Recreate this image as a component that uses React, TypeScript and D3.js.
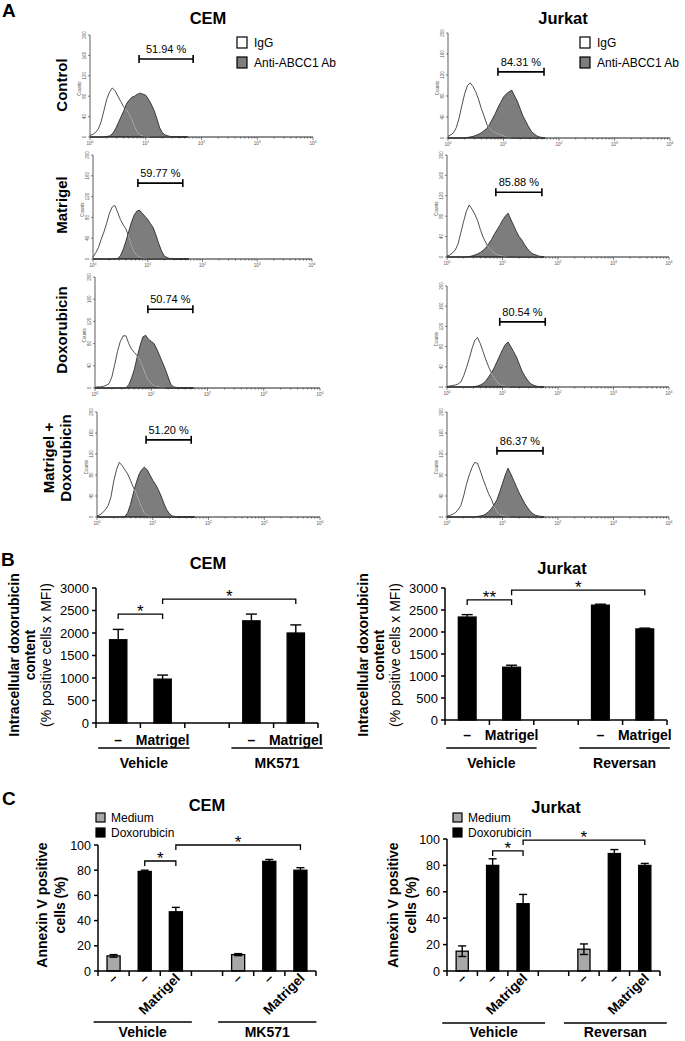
import React from "react";
import * as d3 from "d3";

const W = 685;
const H = 1041;
const FONT = "'Liberation Sans', Arial, Helvetica, sans-serif";

// ---------- Panel A data (flow histograms, counts at log10 fluorescence positions) ----------
const LOGX = [0, 0.05, 0.1, 0.15, 0.2, 0.25, 0.3, 0.35, 0.4, 0.45, 0.5, 0.55, 0.6, 0.65, 0.7, 0.75, 0.8, 0.85, 0.9, 0.95, 1, 1.05, 1.1, 1.15, 1.2, 1.25, 1.3, 1.35, 1.4, 1.45, 1.5, 1.55, 1.6, 1.65, 1.7, 1.75];

const CEM_CONTROL_IGG = [3, 5, 9, 16, 30, 52, 74, 88, 96, 91, 80, 70, 60, 53, 46, 34, 20, 9, 4, 2, 1, 1, 0, 0, 0, 0, 0, 0, 0, 0, 0, 0, 0, 0, 0, 0];
const CEM_CONTROL_ABCC1 = [0, 0, 0, 0, 0, 0, 1, 2, 6, 14, 26, 38, 50, 64, 72, 78, 80, 84, 86, 84, 82, 74, 64, 52, 36, 18, 8, 4, 2, 1, 1, 1, 0, 0, 0, 0];
const CEM_MATRIGEL_IGG = [4, 12, 22, 38, 52, 69, 88, 100, 103, 90, 76, 66, 58, 44, 26, 14, 7, 4, 2, 1, 0, 0, 0, 0, 0, 0, 0, 0, 0, 0, 0, 0, 0, 0, 0, 0];
const CEM_MATRIGEL_ABCC1 = [0, 0, 0, 0, 0, 0, 0, 0, 0, 1, 6, 18, 34, 52, 70, 84, 92, 94, 88, 82, 76, 68, 60, 46, 30, 16, 6, 3, 1, 1, 0, 0, 0, 0, 0, 0];
const CEM_DOXO_IGG = [1, 2, 2, 3, 5, 8, 20, 42, 66, 84, 94, 94, 80, 70, 64, 58, 50, 38, 24, 14, 8, 5, 3, 2, 1, 0, 0, 0, 0, 0, 0, 0, 0, 0, 0, 0];
const CEM_DOXO_ABCC1 = [0, 0, 0, 0, 0, 0, 0, 0, 0, 0, 0, 0, 6, 18, 34, 56, 76, 92, 95, 88, 84, 80, 70, 58, 46, 34, 20, 6, 2, 1, 0, 0, 0, 0, 0, 0];
const CEM_MD_IGG = [2, 4, 8, 14, 22, 38, 68, 90, 104, 98, 90, 82, 70, 57, 46, 32, 18, 7, 3, 1, 0, 0, 0, 0, 0, 0, 0, 0, 0, 0, 0, 0, 0, 0, 0, 0];
const CEM_MD_ABCC1 = [0, 0, 0, 0, 0, 0, 0, 0, 0, 0, 1, 8, 24, 45, 64, 80, 90, 95, 90, 80, 70, 62, 52, 40, 26, 14, 6, 2, 1, 0, 0, 0, 0, 0, 0, 0];

const JUR_CONTROL_IGG = [3, 6, 10, 20, 38, 62, 84, 100, 105, 98, 88, 74, 56, 42, 26, 18, 13, 10, 8, 6, 4, 2, 1, 0, 0, 0, 0, 0, 0, 0, 0, 0, 0, 0, 0, 0];
const JUR_CONTROL_ABCC1 = [0, 0, 0, 0, 0, 0, 0, 1, 2, 3, 5, 7, 10, 14, 18, 26, 36, 46, 58, 68, 78, 84, 88, 91, 80, 70, 56, 42, 32, 22, 13, 8, 4, 2, 1, 0];
const JUR_MATRIGEL_IGG = [2, 4, 8, 14, 26, 48, 70, 90, 102, 94, 84, 72, 54, 39, 28, 18, 12, 8, 5, 3, 2, 1, 0, 0, 0, 0, 0, 0, 0, 0, 0, 0, 0, 0, 0, 0];
const JUR_MATRIGEL_ABCC1 = [0, 0, 0, 0, 0, 0, 0, 0, 1, 2, 4, 6, 9, 13, 18, 26, 34, 44, 53, 62, 72, 80, 86, 74, 62, 50, 40, 33, 24, 16, 10, 6, 4, 2, 1, 0];
const JUR_DOXO_IGG = [1, 2, 3, 4, 6, 10, 22, 38, 56, 76, 92, 98, 86, 70, 54, 40, 28, 18, 10, 5, 3, 2, 1, 0, 0, 0, 0, 0, 0, 0, 0, 0, 0, 0, 0, 0];
const JUR_DOXO_ABCC1 = [0, 0, 0, 0, 0, 0, 0, 0, 0, 0, 1, 2, 4, 7, 12, 20, 28, 38, 50, 62, 74, 84, 89, 80, 70, 60, 46, 32, 22, 14, 7, 4, 2, 1, 0, 0];
const JUR_MD_IGG = [2, 3, 5, 8, 14, 22, 40, 62, 80, 94, 104, 102, 88, 72, 58, 44, 34, 20, 10, 5, 3, 2, 1, 0, 0, 0, 0, 0, 0, 0, 0, 0, 0, 0, 0, 0];
const JUR_MD_ABCC1 = [0, 0, 0, 0, 0, 0, 0, 0, 0, 0, 0, 1, 2, 3, 6, 10, 16, 24, 33, 48, 64, 80, 93, 82, 70, 58, 46, 36, 26, 18, 11, 6, 3, 2, 1, 0];

const ROW_LABELS = [["Control"], ["Matrigel"], ["Doxorubicin"], ["Matrigel +", "Doxorubicin"]];
const CEM_PCT = ["51.94 %", "59.77 %", "50.74 %", "51.20 %"];
const JUR_PCT = ["84.31 %", "85.88 %", "80.54 %", "86.37 %"];
const CEM_GATE = [[0.88, 1.85], [0.82, 1.64], [0.94, 1.74], [0.88, 1.69]];
const JUR_GATE = [[0.9, 1.73], [0.88, 1.71], [0.95, 1.77], [0.9, 1.73]];
const CEM_GATE_LEVEL = [153, 146, 142, 147];
const JUR_GATE_LEVEL = [126, 127, 129, 126];
const HIST_Y_TICKS = [0, 40, 80, 120, 160, 200];
const HIST_LEGEND = ["IgG", "Anti-ABCC1 Ab"];

// ---------- Panel B data ----------
const B_CATS = ["–", "Matrigel", "", "–", "Matrigel"];
const B_CEM_VALUES = [1850, 975, null, 2270, 2000];
const B_CEM_ERRORS = [230, 90, null, 150, 180];
const B_JUR_VALUES = [2340, 1200, null, 2610, 2070];
const B_JUR_ERRORS = [55, 45, null, 22, 18];
const B_Y_TICKS = [0, 500, 1000, 1500, 2000, 2500, 3000];
const B_CEM_GROUPS = [["Vehicle", 0, 1], ["MK571", 3, 4]];
const B_JUR_GROUPS = [["Vehicle", 0, 1], ["Reversan", 3, 4]];
const B_CEM_SIG = [[0, 1, 2420, "*"], [1, 4, 2755, "*"]];
const B_JUR_SIG = [[0, 1, 2730, "**"], [1, 4, 2950, "*"]];

// ---------- Panel C data ----------
const C_CATS = ["–", "–", "Matrigel", "", "–", "–", "Matrigel"];
const C_FILL = ["medium", "doxo", "doxo", "", "medium", "doxo", "doxo"];
const C_CEM_VALUES = [12, 79, 47, null, 13, 87, 80];
const C_CEM_ERRORS = [1, 1, 3.5, null, 0.8, 1.5, 2];
const C_JUR_VALUES = [15, 80, 51, null, 16.5, 89, 80];
const C_JUR_ERRORS = [4, 5, 7, null, 4, 3, 1.5];
const C_Y_TICKS = [0, 20, 40, 60, 80, 100];
const C_CEM_GROUPS = [["Vehicle", 0, 2], ["MK571", 4, 6]];
const C_JUR_GROUPS = [["Vehicle", 0, 2], ["Reversan", 4, 6]];
const C_CEM_SIG = [[1, 2, 87.3, "*"], [2, 6, 100, "*"]];
const C_JUR_SIG = [[1, 2, 91, "*"], [2, 6, 99.2, "*"]];
const C_LEGEND = ["Medium", "Doxorubicin"];

// ---------- Layout (positions only) ----------
const CEM_HIST_BOX = [
  { x0: 90, x1: 313, top: 35, base: 137 },
  { x0: 93, x1: 312, top: 155, base: 259 },
  { x0: 95, x1: 320, top: 277, base: 388 },
  { x0: 97, x1: 320, top: 412, base: 517 },
];
const JUR_HIST_BOX = [
  { x0: 448, x1: 670, top: 33, base: 138 },
  { x0: 447, x1: 669, top: 155, base: 257 },
  { x0: 447, x1: 669, top: 286, base: 387 },
  { x0: 447, x1: 669, top: 412, base: 517 },
];
const ROW_CENTER_Y = [85, 205, 330, 458];

const GREY_HIST = "#7d7d7d";
const GREY_BAR = "#a8a8a8";

function Histogram({ id, box, igg, anti, gate, pct, level }) {
  const { x0, x1, top, base } = box;
  const x = d3.scaleLog().domain([1, 10000]).range([x0, x1]);
  const y = d3.scaleLinear().domain([0, 200]).range([base, top]);
  const pts = (arr) => LOGX.map((l, i) => [Math.pow(10, l), arr[i]]);
  const area = d3.area().x((d) => x(d[0])).y0(base).y1((d) => y(d[1]));
  const line = d3.line().x((d) => x(d[0])).y((d) => y(d[1]));
  const iggP = pts(igg);
  const antiP = pts(anti);
  const ticks = x.ticks();
  const isDecade = (t) => Math.abs(Math.log10(t) - Math.round(Math.log10(t))) < 1e-9;
  const gy = y(level);
  const gx0 = x(Math.pow(10, gate[0]));
  const gx1 = x(Math.pow(10, gate[1]));
  return (
    <g>
      <defs>
        <clipPath id={id}>
          <path d={area(antiP)} />
        </clipPath>
      </defs>
      <path d={area(iggP)} fill="#fff" />
      <path d={area(antiP)} fill={GREY_HIST} stroke="#1a1a1a" strokeWidth={0.8} />
      <path d={line(iggP)} fill="none" stroke="#222" strokeWidth={0.8} />
      <path d={line(iggP)} fill="none" stroke="#d8d8d8" strokeWidth={0.8} clipPath={`url(#${id})`} />
      <line x1={x0} x2={x0} y1={base} y2={top} stroke="#333" strokeWidth={0.8} />
      <line x1={x0} x2={x1} y1={base} y2={base} stroke="#222" strokeWidth={1} />
      {HIST_Y_TICKS.map((t) => (
        <g key={t}>
          <line x1={x0 - 2} x2={x0} y1={y(t)} y2={y(t)} stroke="#333" strokeWidth={0.6} />
          <text transform={`translate(${x0 - 4},${y(t)}) rotate(-90)`} textAnchor="middle" fontSize={4.5} fill="#555">
            {t}
          </text>
        </g>
      ))}
      <text transform={`translate(${x0 - 9},${y(95)}) rotate(-90)`} textAnchor="middle" fontSize={4.5} fill="#555">
        Counts
      </text>
      {ticks.map((t, i) => (
        <line key={i} x1={x(t)} x2={x(t)} y1={base} y2={base + (isDecade(t) ? 3 : 1.6)} stroke="#333" strokeWidth={0.6} />
      ))}
      {ticks.filter(isDecade).map((t) => (
        <text key={t} x={x(t)} y={base + 8} textAnchor="middle" fontSize={4.5} fill="#555">
          10
          <tspan dy={-2} fontSize={3.5}>
            {Math.round(Math.log10(t))}
          </tspan>
        </text>
      ))}
      <line x1={gx0} x2={gx1} y1={gy} y2={gy} stroke="#000" strokeWidth={1.6} />
      <line x1={gx0} x2={gx0} y1={gy - 4} y2={gy + 4} stroke="#000" strokeWidth={1.6} />
      <line x1={gx1} x2={gx1} y1={gy - 4} y2={gy + 4} stroke="#000" strokeWidth={1.6} />
      <text x={(gx0 + gx1) / 2} y={gy - 6} textAnchor="middle" fontSize={11} fill="#000">
        {pct}
      </text>
    </g>
  );
}

function HistLegend({ x, y }) {
  return (
    <g>
      {HIST_LEGEND.map((s, i) => (
        <g key={s}>
          <rect x={x} y={y + i * 20} width={10} height={11} fill={i === 0 ? "#fff" : GREY_HIST} stroke="#000" strokeWidth={1.2} />
          <text x={x + 17} y={y + i * 20 + 10} fontSize={12} fill="#000">
            {s}
          </text>
        </g>
      ))}
    </g>
  );
}

function BarPanel({
  x0, x1, yBase, yTop, yMax, yTicks, values, errors, fills, cats, groups, sig,
  pad, capW, tickFont, rotated, catY, groupY, groupOff, groupDy,
}) {
  const n = values.length;
  const xb = d3.scaleBand().domain(d3.range(n)).range([x0, x1]).paddingInner(pad).paddingOuter(pad / 2);
  const step = (x1 - x0) / n;
  const cx = (i) => xb(i) + xb.bandwidth() / 2;
  const y = d3.scaleLinear().domain([0, yMax]).range([yBase, yTop]);
  return (
    <g fontFamily={FONT}>
      {values.map((v, i) =>
        v == null ? null : (
          <rect key={"b" + i} x={xb(i)} y={y(v)} width={xb.bandwidth()} height={yBase - y(v)}
            fill={fills[i] === "medium" ? GREY_BAR : "#000"} stroke="#000" strokeWidth={1.3} />
        )
      )}
      {values.map((v, i) =>
        v == null ? null : (
          <g key={"e" + i} stroke="#000" strokeWidth={1.4}>
            <line x1={cx(i)} x2={cx(i)} y1={y(v - errors[i])} y2={y(v + errors[i])} />
            <line x1={cx(i) - capW / 2} x2={cx(i) + capW / 2} y1={y(v + errors[i])} y2={y(v + errors[i])} />
            <line x1={cx(i) - capW / 2} x2={cx(i) + capW / 2} y1={y(v - errors[i])} y2={y(v - errors[i])} />
          </g>
        )
      )}
      <line x1={x0} x2={x0} y1={yBase} y2={y(yMax)} stroke="#000" strokeWidth={1.5} />
      {yTicks.map((t) => (
        <g key={t}>
          <line x1={x0 - 4} x2={x0} y1={y(t)} y2={y(t)} stroke="#000" strokeWidth={1.5} />
          <text x={x0 - 7} y={y(t)} dy="0.36em" textAnchor="end" fontSize={tickFont} fill="#000">
            {t}
          </text>
        </g>
      ))}
      <line x1={x0} x2={x1} y1={yBase} y2={yBase} stroke="#000" strokeWidth={1.5} />
      {d3.range(n + 1).map((i) => (
        <line key={"t" + i} x1={x0 + i * step} x2={x0 + i * step} y1={yBase} y2={yBase + 5} stroke="#000" strokeWidth={1.5} />
      ))}
      {cats.map((c, i) =>
        c === "" ? null : rotated ? (
          <text key={"c" + i} transform={`translate(${cx(i) + 5},${catY}) rotate(-45)`} textAnchor="end" fontSize={13.5} fontWeight="bold">
            {c}
          </text>
        ) : (
          <text key={"c" + i} x={cx(i)} y={catY} textAnchor="middle" fontSize={14} fontWeight="bold">
            {c}
          </text>
        )
      )}
      {groups.map(([label, a, b]) => {
        const la = cx(a) - groupOff[0];
        const lb = cx(b) + groupOff[1];
        return (
          <g key={label}>
            <line x1={la} x2={lb} y1={groupY} y2={groupY} stroke="#000" strokeWidth={1.5} />
            <text x={(la + lb) / 2} y={groupY + groupDy} textAnchor="middle" fontSize={14} fontWeight="bold">
              {label}
            </text>
          </g>
        );
      })}
      {sig.map(([a, b, lvl, lab], k) => {
        const yy = y(lvl);
        return (
          <g key={"s" + k}>
            <path d={`M${cx(a)},${yy + 5}V${yy}H${cx(b)}V${yy + 5}`} fill="none" stroke="#000" strokeWidth={1.3} />
            <text x={(cx(a) + cx(b)) / 2} y={yy + 3} textAnchor="middle" fontSize={17}>
              {lab}
            </text>
          </g>
        );
      })}
    </g>
  );
}

function CLegend({ x, y }) {
  return (
    <g fontFamily={FONT}>
      {C_LEGEND.map((s, i) => (
        <g key={s}>
          <rect x={x} y={y + i * 15} width={9} height={9} fill={i === 0 ? GREY_BAR : "#000"} stroke="#000" strokeWidth={1.2} />
          <text x={x + 15} y={y + i * 15 + 9} fontSize={12}>
            {s}
          </text>
        </g>
      ))}
    </g>
  );
}

function YLabel({ y, lines }) {
  return (
    <g>
      {lines.map(([s, bx, bold], i) => (
        <text key={i} transform={`translate(${bx},${y}) rotate(-90)`} textAnchor="middle" fontSize={14} fontWeight={bold ? "bold" : "normal"}>
          {s}
        </text>
      ))}
    </g>
  );
}

export default function App() {
  const cemIgg = [CEM_CONTROL_IGG, CEM_MATRIGEL_IGG, CEM_DOXO_IGG, CEM_MD_IGG];
  const cemAnti = [CEM_CONTROL_ABCC1, CEM_MATRIGEL_ABCC1, CEM_DOXO_ABCC1, CEM_MD_ABCC1];
  const jurIgg = [JUR_CONTROL_IGG, JUR_MATRIGEL_IGG, JUR_DOXO_IGG, JUR_MD_IGG];
  const jurAnti = [JUR_CONTROL_ABCC1, JUR_MATRIGEL_ABCC1, JUR_DOXO_ABCC1, JUR_MD_ABCC1];
  return (
    <svg width={W} height={H} viewBox={`0 0 ${W} ${H}`} style={{ position: "absolute", left: 0, top: 0, background: "#fff" }} fontFamily={FONT}>
      <rect x={0} y={0} width={W} height={H} fill="#fff" />
      {/* ---------- Panel A ---------- */}
      <text x={2} y={17} fontSize={19} fontWeight="bold">A</text>
      <text x={208} y={24} textAnchor="middle" fontSize={16.5} fontWeight="bold">CEM</text>
      <text x={563} y={24} textAnchor="middle" fontSize={16.5} fontWeight="bold">Jurkat</text>
      {ROW_LABELS.map((lines, r) =>
        lines.length === 1 ? (
          <text key={r} transform={`translate(67,${ROW_CENTER_Y[r]}) rotate(-90)`} textAnchor="middle" fontSize={15} fontWeight="bold">
            {lines[0]}
          </text>
        ) : (
          <g key={r}>
            {lines.map((s, k) => (
              <text key={k} transform={`translate(${54 + k * 17},${ROW_CENTER_Y[r]}) rotate(-90)`} textAnchor="middle" fontSize={15} fontWeight="bold">
                {s}
              </text>
            ))}
          </g>
        )
      )}
      {CEM_HIST_BOX.map((box, r) => (
        <Histogram key={"c" + r} id={"cemclip" + r} box={box} igg={cemIgg[r]} anti={cemAnti[r]} gate={CEM_GATE[r]} pct={CEM_PCT[r]} level={CEM_GATE_LEVEL[r]} />
      ))}
      {JUR_HIST_BOX.map((box, r) => (
        <Histogram key={"j" + r} id={"jurclip" + r} box={box} igg={jurIgg[r]} anti={jurAnti[r]} gate={JUR_GATE[r]} pct={JUR_PCT[r]} level={JUR_GATE_LEVEL[r]} />
      ))}
      <HistLegend x={237} y={37} />
      <HistLegend x={580} y={37} />

      {/* ---------- Panel B ---------- */}
      <text x={1} y={566} fontSize={19} fontWeight="bold">B</text>
      <text x={208} y={569} textAnchor="middle" fontSize={16.5} fontWeight="bold">CEM</text>
      <text x={562} y={574} textAnchor="middle" fontSize={16.5} fontWeight="bold">Jurkat</text>
      <YLabel y={655} lines={[["Intracellular doxorubicin", 19, true], ["content", 35, true], ["(% positive cells x MFI)", 51, false]]} />
      <YLabel y={655} lines={[["Intracellular doxorubicin", 368, true], ["content", 384, true], ["(% positive cells x MFI)", 400, false]]} />
      <BarPanel x0={96} x1={318} yBase={723} yTop={588} yMax={3000} yTicks={B_Y_TICKS} values={B_CEM_VALUES} errors={B_CEM_ERRORS}
        fills={B_CATS.map(() => "doxo")} cats={B_CATS} groups={B_CEM_GROUPS} sig={B_CEM_SIG} pad={0.61} capW={11} tickFont={13}
        rotated={false} catY={745} groupY={748} groupOff={[20, 27]} groupDy={20} />
      <BarPanel x0={445} x1={667} yBase={720} yTop={588} yMax={3000} yTicks={B_Y_TICKS} values={B_JUR_VALUES} errors={B_JUR_ERRORS}
        fills={B_CATS.map(() => "doxo")} cats={B_CATS} groups={B_JUR_GROUPS} sig={B_JUR_SIG} pad={0.6} capW={11} tickFont={13}
        rotated={false} catY={740} groupY={748} groupOff={[21, 25]} groupDy={20} />

      {/* ---------- Panel C ---------- */}
      <text x={2} y={805} fontSize={19} fontWeight="bold">C</text>
      <text x={207} y={811} textAnchor="middle" fontSize={16.5} fontWeight="bold">CEM</text>
      <text x={556} y={813} textAnchor="middle" fontSize={16.5} fontWeight="bold">Jurkat</text>
      <CLegend x={96} y={813} />
      <CLegend x={453} y={813} />
      <YLabel y={905} lines={[["Annexin V positive", 47, true], ["cells (%)", 65, true]]} />
      <YLabel y={905} lines={[["Annexin V positive", 398, true], ["cells (%)", 416, true]]} />
      <BarPanel x0={98} x1={316} yBase={971} yTop={845} yMax={100} yTicks={C_Y_TICKS} values={C_CEM_VALUES} errors={C_CEM_ERRORS}
        fills={C_FILL} cats={C_CATS} groups={C_CEM_GROUPS} sig={C_CEM_SIG} pad={0.58} capW={8} tickFont={12.5}
        rotated={true} catY={979} groupY={1022} groupOff={[20, 16]} groupDy={15} />
      <BarPanel x0={447} x1={660} yBase={971} yTop={839} yMax={100} yTicks={C_Y_TICKS} values={C_JUR_VALUES} errors={C_JUR_ERRORS}
        fills={C_FILL} cats={C_CATS} groups={C_JUR_GROUPS} sig={C_JUR_SIG} pad={0.6} capW={8} tickFont={12.5}
        rotated={true} catY={979} groupY={1023} groupOff={[20, 22]} groupDy={14} />
    </svg>
  );
}
